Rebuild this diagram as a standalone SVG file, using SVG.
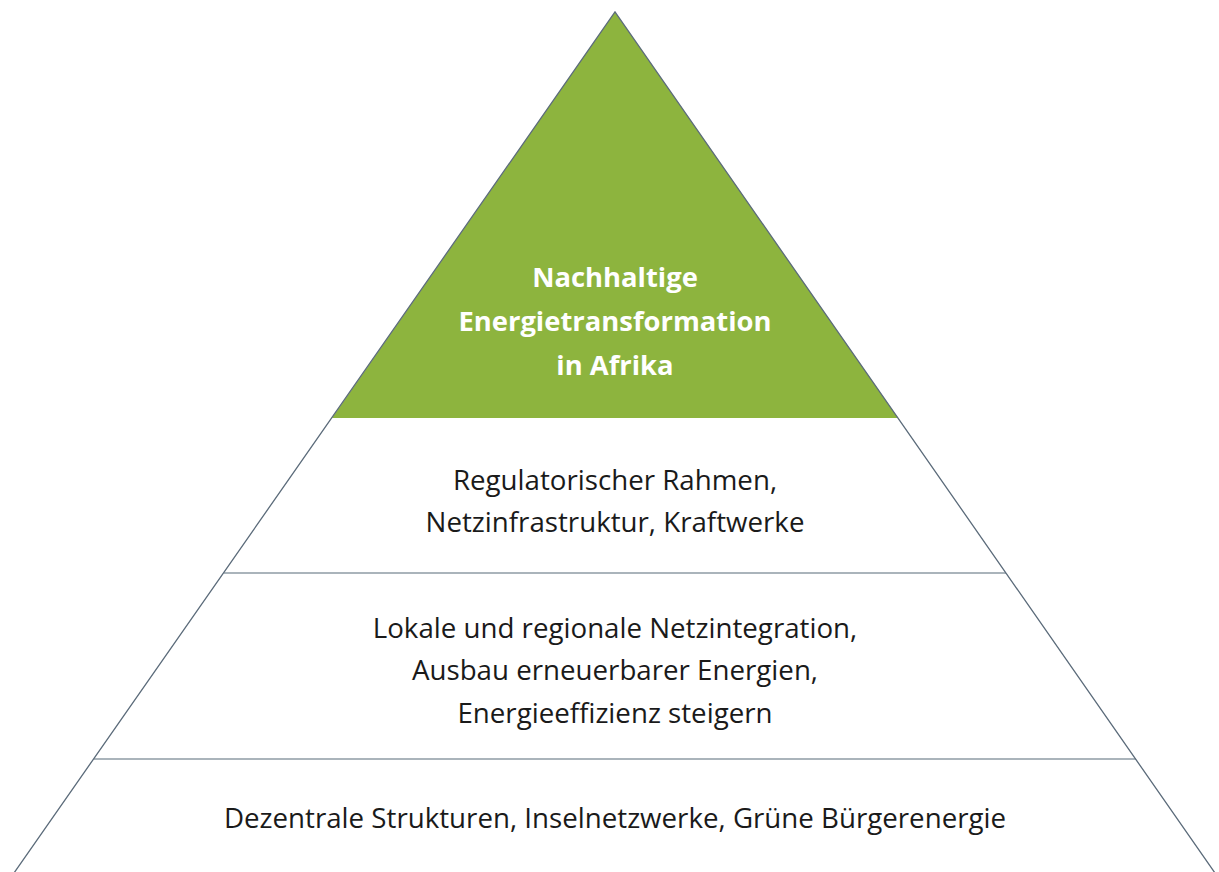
<svg xmlns="http://www.w3.org/2000/svg" width="1219" height="872" viewBox="0 0 1219 872">
<style>
.edge{stroke:#5b6b7a;stroke-width:1.3;fill:none}
.sep{stroke:#8e9ba5;stroke-width:1.5}
.t{font-family:"Open Sans","Noto Sans",sans-serif;font-size:27.7px;fill:#1a1a1a;text-anchor:middle}
.h{font-family:"Open Sans","Noto Sans",sans-serif;font-size:27.4px;font-weight:bold;fill:#ffffff;text-anchor:middle}
</style>
<rect width="1219" height="872" fill="#ffffff"/>
<g id="top">
<polygon points="615,12 332,418 898,418" fill="#8db43e"/>
<text class="h" x="615" y="287">Nachhaltige</text>
<text class="h" x="615" y="331">Energietransformation</text>
<text class="h" x="615" y="375">in Afrika</text>
</g>
<g id="level2">
<text class="t" x="615" y="490">Regulatorischer Rahmen,</text>
<text class="t" x="615" y="532">Netzinfrastruktur, Kraftwerke</text>
</g>
<g id="level3">
<text class="t" x="615" y="638">Lokale und regionale Netzintegration,</text>
<text class="t" x="615" y="680">Ausbau erneuerbarer Energien,</text>
<text class="t" x="615" y="723">Energieeffizienz steigern</text>
</g>
<g id="level4">
<text class="t" x="615" y="828">Dezentrale Strukturen, Inselnetzwerke, Grüne Bürgerenergie</text>
</g>
<g id="connectors">
<line class="sep" x1="224" y1="573" x2="1006" y2="573"/>
<line class="sep" x1="94" y1="759" x2="1136" y2="759"/>
<polyline class="edge" points="14,873 615,12 1215,873"/>
</g>
</svg>
